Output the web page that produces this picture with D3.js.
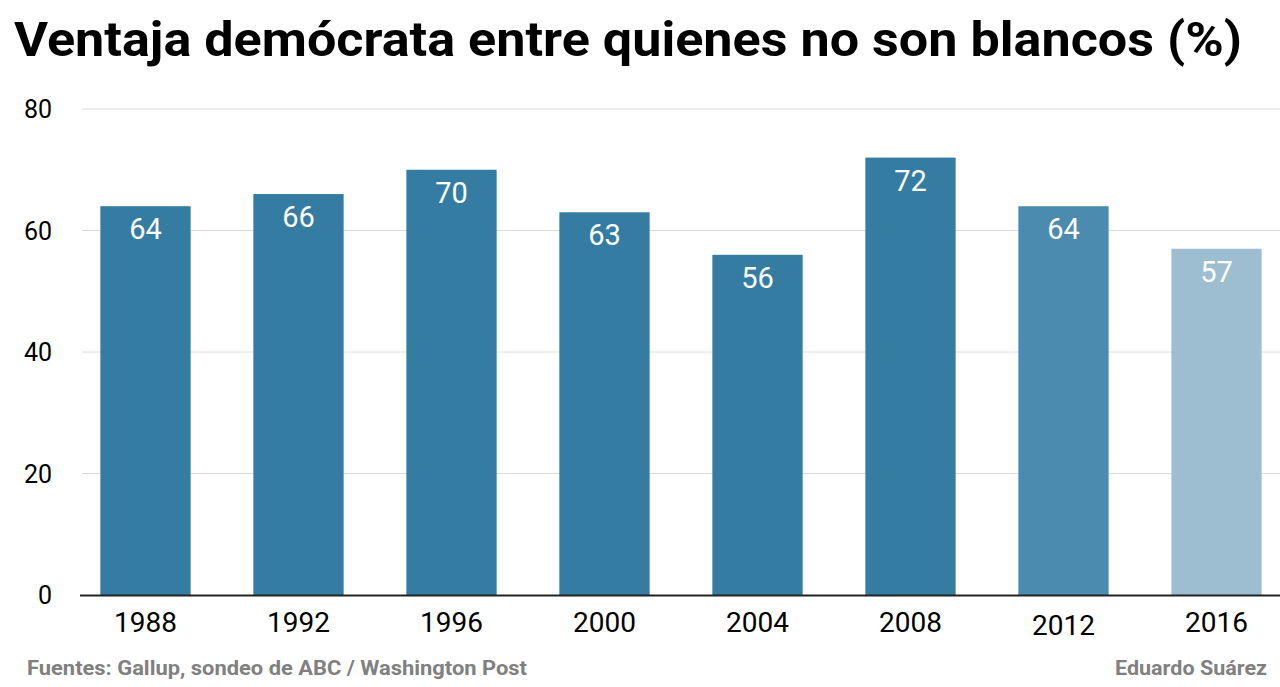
<!DOCTYPE html>
<html>
<head>
<meta charset="utf-8">
<script src="https://cdn.jsdelivr.net/npm/d3@7/dist/d3.min.js"></script>
<style>
  html, body { margin: 0; padding: 0; background: #fff; }
  svg { display: block; font-family: Roboto, "Open Sans", sans-serif; }
</style>
</head>
<body>
<svg id="chart" width="1280" height="687"></svg>
<script>
const years = ["1988", "1992", "1996", "2000", "2004", "2008", "2012", "2016"];
const values = [64, 66, 70, 63, 56, 72, 64, 57];
const barColors = ["#357ca2", "#357ca2", "#357ca2", "#357ca2", "#357ca2", "#357ca2", "#4a8baf", "#9dbed1"];
const yTicks = [0, 20, 40, 60, 80];
const titleText = "Ventaja demócrata entre quienes no son blancos (%)";
const sourceText = "Fuentes: Gallup, sondeo de ABC / Washington Post";
const authorText = "Eduardo Suárez";

const svg = d3.select("#chart");

const x = d3.scaleBand().domain(years).range([82, 1280]).paddingInner(0.41).paddingOuter(0.12);
const y = d3.scaleLinear().domain([0, 80]).range([595, 109]);

// title
svg.append("text")
  .attr("x", 14).attr("y", 56)
  .attr("font-size", 49).attr("font-weight", 700).attr("fill", "#000")
  .attr("textLength", 1228).attr("lengthAdjust", "spacingAndGlyphs")
  .text(titleText);

// gridlines
svg.append("g").selectAll("line").data(yTicks.filter(d => d > 0)).join("line")
  .attr("x1", 82).attr("x2", 1280)
  .attr("y1", d => y(d)).attr("y2", d => y(d))
  .attr("stroke", "#dcdcdc").attr("stroke-width", 1);

// y tick labels
svg.append("g").selectAll("text").data(yTicks).join("text")
  .attr("x", 52).attr("y", d => y(d)).attr("dy", "0.36em")
  .attr("text-anchor", "end").attr("font-size", 25).attr("fill", "#000")
  .text(d => d);

// bars
const data = years.map((yr, i) => ({ yr, v: values[i], c: barColors[i] }));
svg.append("g").selectAll("rect").data(data).join("rect")
  .attr("x", d => x(d.yr)).attr("width", x.bandwidth())
  .attr("y", d => y(d.v)).attr("height", d => y(0) - y(d.v))
  .attr("fill", d => d.c);

// bar value labels
svg.append("g").selectAll("text").data(data).join("text")
  .attr("x", d => x(d.yr) + x.bandwidth() / 2)
  .attr("y", d => y(d.v) + 33)
  .attr("text-anchor", "middle").attr("font-size", 29).attr("fill", "#fff")
  .text(d => d.v);

// baseline
svg.append("line")
  .attr("x1", 80).attr("x2", 1280).attr("y1", y(0) + 0.5).attr("y2", y(0) + 0.5)
  .attr("stroke", "#222").attr("stroke-width", 2);

// x labels
svg.append("g").selectAll("text").data(years).join("text")
  .attr("x", d => x(d) + x.bandwidth() / 2).attr("y", d => d === "2012" ? 635 : 632)
  .attr("text-anchor", "middle").attr("font-size", 28).attr("fill", "#000")
  .text(d => d);

// footer
svg.append("text")
  .attr("x", 27).attr("y", 675)
  .attr("font-size", 20).attr("font-weight", 700).attr("fill", "#808080")
  .attr("textLength", 500).attr("lengthAdjust", "spacingAndGlyphs")
  .text(sourceText);
svg.append("text")
  .attr("x", 1115).attr("y", 675)
  .attr("font-size", 20).attr("font-weight", 700).attr("fill", "#808080")
  .attr("textLength", 152).attr("lengthAdjust", "spacingAndGlyphs")
  .text(authorText);
</script>
</body>
</html>
